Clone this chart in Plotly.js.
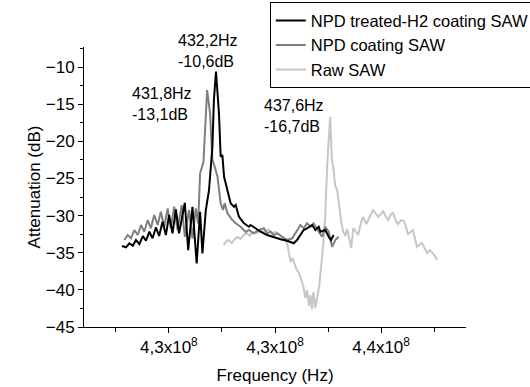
<!DOCTYPE html>
<html>
<head>
<meta charset="utf-8">
<script src="https://cdn.plot.ly/plotly-3.0.1.min.js"></script>
<style>html,body{margin:0;padding:0;background:#fff;}#chart{width:530px;height:387px;}</style>
</head>
<body>
<div id="chart"></div>
<script>
// Frequencies in MHz (converted to Hz for plotting), attenuation in dB
const treatedFreq = [427.79,427.98,428.14,428.30,428.45,428.61,428.77,428.92,429.08,429.23,429.39,429.54,429.70,429.86,430.01,430.17,430.33,430.48,430.75,430.91,431.11,431.31,431.47,431.58,431.74,431.89,432.05,432.12,432.22,432.36,432.44,432.52,432.60,432.76,432.91,433.07,433.15,433.30,433.54,433.77,433.85,434.08,434.32,434.63,434.94,435.26,435.57,435.88,436.04,436.20,436.35,436.51,436.75,436.90,437.06,437.14,437.37,437.53,437.64,437.76];
const treatedAtt  = [-34.10,-34.27,-33.73,-34.06,-33.29,-33.83,-32.75,-33.38,-32.17,-33.06,-31.58,-32.75,-30.83,-32.62,-29.92,-32.39,-29.16,-32.39,-28.27,-34.64,-28.81,-36.43,-29.48,-35.08,-29.25,-26.56,-20.77,-14.5,-10.6,-16.23,-22.08,-21.85,-24.77,-26.56,-28.35,-28.81,-28.58,-30.15,-31.04,-31.50,-31.27,-31.71,-32.17,-32.62,-32.93,-33.19,-33.38,-33.73,-33.29,-32.62,-31.94,-31.71,-31.27,-31.94,-31.50,-32.17,-31.94,-32.85,-33.29,-32.62];

const coatingFreq = [427.90,428.06,428.22,428.37,428.53,428.69,428.84,429.00,429.15,429.31,429.47,429.62,429.78,429.94,430.09,430.25,430.41,430.60,430.75,430.95,431.11,431.27,431.38,431.47,431.63,431.69,431.80,431.94,432.05,432.16,432.29,432.44,432.55,432.63,432.76,432.99,433.15,433.38,433.62,433.77,434.00,434.24,434.47,434.63,434.79,434.94,435.10,435.34,435.57,435.81,436.04,436.20,436.35,436.51,436.67,436.82,437.06,437.22,437.37,437.53,437.69,437.84,438.00];
const coatingAtt  = [-33.29,-32.62,-33.06,-31.94,-32.62,-31.27,-32.17,-30.60,-31.71,-29.92,-31.27,-29.48,-31.50,-29.02,-31.71,-28.81,-31.94,-28.58,-32.85,-29.25,-33.06,-29.02,-31.04,-24.31,-22.75,-18.48,-13.1,-16.23,-22.52,-23.42,-24.77,-28.35,-29.25,-28.35,-29.69,-30.60,-31.04,-31.50,-32.20,-31.94,-32.39,-31.94,-31.71,-32.39,-32.17,-32.62,-32.39,-32.85,-33.29,-33.06,-31.94,-31.27,-31.71,-31.04,-31.50,-31.04,-32.17,-32.85,-31.50,-32.17,-34.19,-33.29,-32.85];

const rawFreq = [432.58,432.72,432.82,432.96,433.10,433.24,433.38,433.52,433.66,433.80,433.94,434.13,434.32,434.51,434.69,434.84,435.02,435.21,435.35,435.49,435.59,435.66,435.73,435.82,435.92,436.01,436.15,436.24,436.34,436.43,436.51,436.60,436.67,436.74,436.81,436.90,437.00,437.09,437.18,437.28,437.37,437.46,437.60,437.68,437.75,437.84,437.93,438.03,438.12,438.22,438.31,438.40,438.50,438.59,438.69,438.83,438.92,439.06,439.15,439.30,439.44,439.62,439.77,439.86,440.00,440.09,440.23,440.33,440.47,440.56,440.70,440.80,440.94,441.08,441.27,441.41,441.50,441.69,441.83,441.92,442.07,442.16,442.30,442.39,442.54,442.63];
const rawAtt  = [-33.96,-33.42,-33.29,-33.69,-33.15,-32.89,-33.15,-32.62,-32.35,-32.68,-32.21,-32.35,-32.08,-32.21,-31.88,-32.35,-32.21,-32.55,-33.02,-33.29,-33.96,-35.44,-36.25,-35.71,-36.65,-37.19,-37.87,-38.67,-39.62,-41.10,-40.02,-42.17,-40.69,-42.58,-40.29,-42.44,-40.83,-39.35,-36.65,-33.69,-29.92,-23.19,-16.7,-22.52,-23.60,-26.02,-26.56,-28.71,-30.87,-32.21,-32.75,-31.81,-33.02,-34.37,-31.67,-32.35,-32.62,-30.87,-30.19,-31.14,-30.33,-29.25,-29.79,-30.19,-29.79,-29.39,-30.19,-30.60,-29.79,-29.65,-30.73,-31.14,-30.60,-30.73,-32.48,-32.21,-31.94,-34.23,-33.83,-33.69,-34.50,-35.04,-34.64,-34.91,-35.44,-35.98];

const seriesNames = ["NPD treated-H2 coating SAW", "NPD coating SAW", "Raw SAW"];
const tickHz = [430e6, 435e6, 440e6];
const tickLabels = ["4,3x10<sup>8</sup>", "4,3x10<sup>8</sup>", "4,4x10<sup>8</sup>"];
const peakLabels = ["432,2Hz<br>-10,6dB", "431,8Hz<br>-13,1dB", "437,6Hz<br>-16,7dB"];

const toHz = a => a.map(f => f * 1e6);
const FONT = '"Liberation Sans", Arial, sans-serif';

const traces = [
  {x: toHz(rawFreq), y: rawAtt, name: seriesNames[2], mode: 'lines', line: {color: '#c6c6c6', width: 2}},
  {x: toHz(coatingFreq), y: coatingAtt, name: seriesNames[1], mode: 'lines', line: {color: '#7f7f7f', width: 2}},
  {x: toHz(treatedFreq), y: treatedAtt, name: seriesNames[0], mode: 'lines', line: {color: '#000000', width: 2}}
];

const layout = {
  width: 530, height: 387,
  margin: {l: 84, r: 64, t: 47, b: 60, autoexpand: false},
  paper_bgcolor: '#fff', plot_bgcolor: '#fff',
  font: {family: FONT, size: 17, color: '#000'},
  showlegend: true,
  legend: {
    xref: 'container', yref: 'container',
    x: 0.509, y: 0.994, xanchor: 'left', yanchor: 'top',
    bgcolor: '#fff', bordercolor: '#000', borderwidth: 1,
    traceorder: 'reversed', font: {family: FONT, size: 16.5, color: '#000'},
    tracegroupgap: 0
  },
  xaxis: {
    range: [426e6, 444e6],
    tickmode: 'array', tickvals: tickHz, ticktext: tickLabels,
    ticks: 'outside', ticklen: 5, tickwidth: 1, tickcolor: '#000',
    showline: true, linecolor: '#000', linewidth: 1,
    showgrid: false, zeroline: false,
    minor: {tickmode: 'linear', tick0: 427.5e6, dtick: 2.5e6, ticks: 'outside', ticklen: 4, tickcolor: '#000', showgrid: false},
    tickfont: {size: 17},
    title: {text: 'Frequency (Hz)', font: {size: 17}, standoff: 12}
  },
  yaxis: {
    range: [-45, -7.3],
    tickmode: 'linear', tick0: -45, dtick: 5,
    ticks: 'outside', ticklen: 5, tickwidth: 1, tickcolor: '#000',
    showline: true, linecolor: '#000', linewidth: 1,
    showgrid: false, zeroline: false,
    minor: {dtick: 2.5, ticks: 'outside', ticklen: 3, tickcolor: '#000', showgrid: false},
    tickfont: {size: 17},
    title: {text: 'Attenuation (dB)', font: {size: 17}, standoff: 0}
  },
  annotations: [
    {text: peakLabels[0], xref: 'paper', yref: 'paper', x: 0.2408, y: 0.984, xanchor: 'left', yanchor: 'middle', align: 'left', showarrow: false, font: {size: 16}},
    {text: peakLabels[1], xref: 'paper', yref: 'paper', x: 0.1204, y: 0.7964, xanchor: 'left', yanchor: 'middle', align: 'left', showarrow: false, font: {size: 16}},
    {text: peakLabels[2], xref: 'paper', yref: 'paper', x: 0.466, y: 0.752, xanchor: 'left', yanchor: 'middle', align: 'left', showarrow: false, font: {size: 16}}
  ]
};

Plotly.newPlot('chart', traces, layout, {displayModeBar: false, staticPlot: true});
</script>
</body>
</html>
